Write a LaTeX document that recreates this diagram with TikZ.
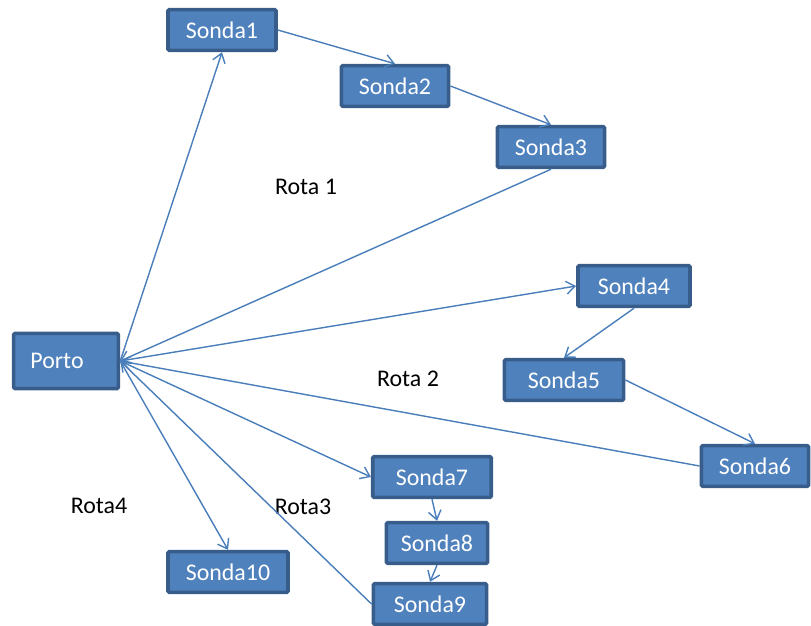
\documentclass[tikz,border=0pt]{standalone}
\usepackage{fontspec}
\setmainfont{Carlito}
\usetikzlibrary{arrows.meta}
\definecolor{SondaFill}{HTML}{4F81BD}
\definecolor{SondaEdge}{HTML}{385D8A}
\definecolor{RotaLine}{HTML}{4A7EBB}

\begin{document}
\begin{tikzpicture}[x=0.025cm,y=-0.025cm,
    box/.style={draw=SondaEdge,fill=SondaFill,line width=2.6pt,rounded corners=1pt,
      text=white,minimum height=1.02cm,inner sep=0pt,font=\fontsize{17}{20}\selectfont},
    rota/.style={font=\fontsize{17}{20}\selectfont,inner sep=0pt},
    link/.style={RotaLine,line width=1pt,-{Straight Barb[length=2.2mm,width=3.2mm]}}]
  \useasboundingbox (0,0) rectangle (811,626);
  % nodes
  \node[box,minimum width=2.62cm,minimum height=1.38cm] (porto) at (66,361) {Porto\hspace*{.45cm}};
  \node[box,minimum width=2.7cm] (s1) at (222,30) {Sonda1};
  \node[box,minimum width=2.68cm] (s2) at (395,86) {Sonda2};
  \node[box,minimum width=2.68cm] (s3) at (551,147) {Sonda3};
  \node[box,minimum width=2.8cm] (s4) at (634,286) {Sonda4};
  \node[box,minimum width=2.98cm] (s5) at (564,380) {Sonda5};
  \node[box,minimum width=2.68cm] (s6) at (755,466) {Sonda6};
  \node[box,minimum width=2.96cm] (s7) at (432,477) {Sonda7};
  \node[box,minimum width=2.53cm] (s8) at (437,543) {Sonda8};
  \node[box,minimum width=2.83cm] (s9) at (430,604) {Sonda9};
  \node[box,minimum width=3cm] (s10) at (228,572) {Sonda10};
  % route labels
  \node[rota] (r1) at (306,187) {Rota 1};
  \node[rota] (r2) at (408,379) {Rota 2};
  \node[rota] (r3) at (303,507) {Rota3};
  \node[rota] (r4) at (99,506) {Rota4};
  % Rota 1
  \draw[link] (porto.east) -- (s1.south);
  \draw[link] (s1.east) -- (s2.north);
  \draw[link] (s2.east) -- (s3.north);
  \draw[link] (s3.south) -- (porto.east);
  % Rota 2
  \draw[link] (porto.east) -- (s4.west);
  \draw[link] (s4.south) -- (s5.north);
  \draw[link] (s5.east) -- (s6.north);
  \draw[link] (s6.west) -- (porto.east);
  % Rota3
  \draw[link] (porto.east) -- (s7.west);
  \draw[link] (s7.south) -- (s8.north);
  \draw[link] (s8.south) -- (s9.north);
  \draw[link] (s9.west) -- (porto.east);
  % Rota4
  \draw[link] (porto.east) -- (s10.north);
\end{tikzpicture}
\end{document}
